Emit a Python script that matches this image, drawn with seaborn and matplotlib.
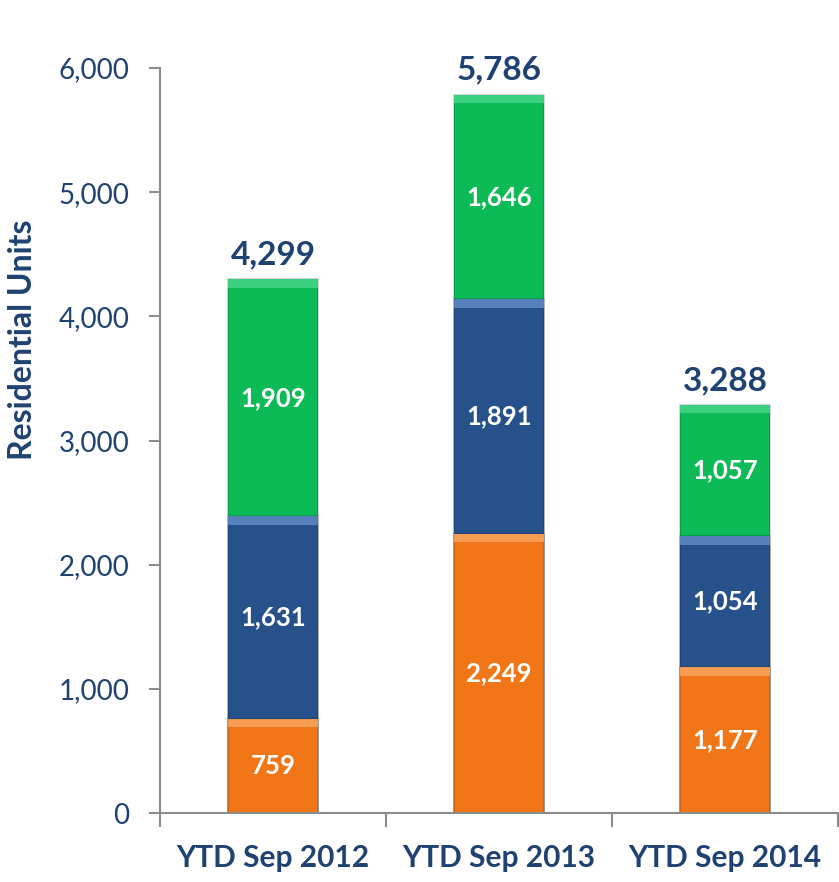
import numpy as np
import pandas as pd
import matplotlib.pyplot as plt
import seaborn as sns
from matplotlib.ticker import FuncFormatter, FixedLocator

# Data
periods = ['YTD Sep 2012', 'YTD Sep 2013', 'YTD Sep 2014']
orange_vals = [759, 2249, 1177]
blue_vals = [1631, 1891, 1054]
green_vals = [1909, 1646, 1057]
totals = [4299, 5786, 3288]

navy = '#1F4272'
c_orange = '#F07617'
c_blue = '#27518A'
c_green = '#0CBB55'

sns.set_style('white')
plt.rcParams['font.family'] = ['Lato', 'DejaVu Sans']

df = pd.DataFrame({'period': periods, 'orange': orange_vals,
                   'blue': blue_vals, 'green': green_vals})
df['lvl1'] = df['orange']
df['lvl2'] = df['orange'] + df['blue']
df['lvl3'] = df['lvl2'] + df['green']

fig = plt.figure(figsize=(8.39, 8.82), dpi=100)
ax = fig.add_axes([0.1907, 0.0782, 0.8081, 0.8447])

# stacked bars by overdrawing cumulative heights
for col, color in [('lvl3', c_green), ('lvl2', c_blue), ('lvl1', c_orange)]:
    sns.barplot(data=df, x='period', y=col, color=color, width=0.4,
                saturation=1, ax=ax, edgecolor='#00000030', linewidth=1.2)

# bevel-like highlight along the top of each segment
for i in range(len(periods)):
    for top, light in [(df['lvl3'][i], '#45D587'),
                       (df['lvl2'][i], '#5F8AC6'),
                       (df['lvl1'][i], '#F9A55E')]:
        ax.bar(i, 70, bottom=top - 70, width=0.4, color=light,
               linewidth=0, zorder=3, alpha=0.85)

# segment labels
for i in range(len(periods)):
    segs = [(0, orange_vals[i]), (df['lvl1'][i], blue_vals[i]),
            (df['lvl2'][i], green_vals[i])]
    for base, val in segs:
        ax.text(i, base + val / 2, f'{val:,}', ha='center', va='center',
                color='white', fontsize=18.5, fontweight='bold', zorder=4)
    ax.text(i, totals[i] + 80, f'{totals[i]:,}', ha='center', va='bottom',
            color=navy, fontsize=24, fontweight='bold')

ax.set_xlim(-0.5, 2.5)
ax.set_ylim(0, 6000)
ax.set_yticks(np.arange(0, 6001, 1000))
ax.yaxis.set_major_formatter(FuncFormatter(lambda v, p: f'{int(v):,}'))
ax.tick_params(axis='y', labelsize=20, labelcolor=navy, length=8,
               width=1.5, color='#8C8C8C', direction='out', left=True, pad=14)

ax.tick_params(axis='x', which='major', length=0, labelsize=21.5,
               labelcolor=navy, pad=22)
ax.xaxis.set_minor_locator(FixedLocator([-0.5, 0.5, 1.5, 2.5]))
ax.tick_params(axis='x', which='minor', length=10, width=1.5,
               color='#8C8C8C', direction='out', bottom=True)
for lab in ax.get_xticklabels():
    lab.set_fontweight('bold')
for lab in ax.get_yticklabels():
    lab.set_color(navy)

ax.set_xlabel('')
ax.set_ylabel('Residential Units', fontsize=23, fontweight='bold', color=navy)
ax.yaxis.set_label_coords(-0.182, 0.635)

sns.despine(ax=ax, top=True, right=True)
for side in ['left', 'bottom']:
    ax.spines[side].set_color('#8C8C8C')
    ax.spines[side].set_linewidth(1.5)

fig.savefig('out.png', dpi=100)
